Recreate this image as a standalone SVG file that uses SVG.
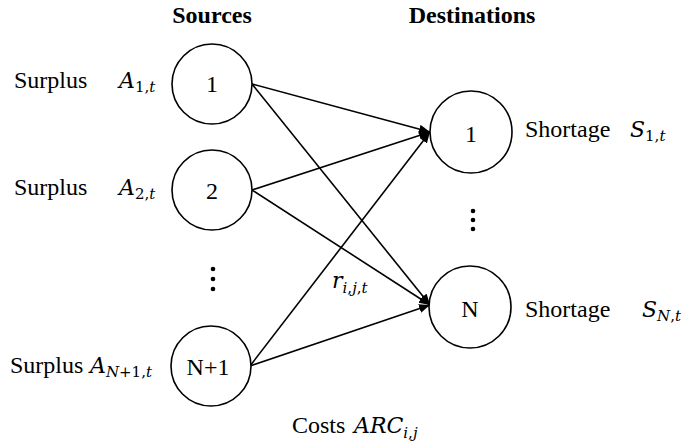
<svg xmlns="http://www.w3.org/2000/svg" width="681" height="444" viewBox="0 0 681 444">
<style>
.t{font-family:"Liberation Serif","Times New Roman",serif;font-size:24px;fill:#000}
.b{font-weight:bold}
.m{font-family:"DejaVu Serif","Liberation Serif",serif;font-style:italic;font-size:22px;fill:#000}
.s{font-size:15px}
.u{font-style:normal}
.node circle{fill:#fff;stroke:#000;stroke-width:1.6}
#edges line{stroke:#000;stroke-width:1.6;marker-end:url(#arr)}
</style>
<defs>
<marker id="arr" markerUnits="userSpaceOnUse" markerWidth="12" markerHeight="10" refX="11" refY="5" orient="auto">
<path d="M0,0.5 L11,5 L0,9.5 z" fill="#000"/>
</marker>
</defs>
<rect width="681" height="444" fill="#fff"/>
<text class="t b" x="212" y="23" text-anchor="middle">Sources</text>
<text class="t b" x="472" y="23" text-anchor="middle">Destinations</text>
<g id="edges">
<line x1="252" y1="84" x2="430" y2="132"/>
<line x1="252" y1="84" x2="430" y2="305"/>
<line x1="252" y1="190" x2="430" y2="132"/>
<line x1="252" y1="190" x2="430" y2="305"/>
<line x1="250" y1="366" x2="430" y2="132"/>
<line x1="250" y1="366" x2="430" y2="305"/>
</g>
<g id="src1" class="node">
<circle cx="212" cy="84" r="40"/>
<text class="t" x="212" y="92" text-anchor="middle">1</text>
<text class="t" x="14" y="88">Surplus</text>
<text class="m" x="119" y="88">A<tspan class="s" dy="4"><tspan class="u">1,</tspan>t</tspan></text>
</g>
<g id="src2" class="node">
<circle cx="212" cy="190" r="40"/>
<text class="t" x="212" y="199" text-anchor="middle">2</text>
<text class="t" x="14" y="195">Surplus</text>
<text class="m" x="119" y="195">A<tspan class="s" dy="4"><tspan class="u">2,</tspan>t</tspan></text>
</g>
<g id="srcdots">
<circle cx="213" cy="269" r="2.3"/>
<circle cx="213" cy="279" r="2.3"/>
<circle cx="213" cy="289" r="2.3"/>
</g>
<g id="srcN1" class="node">
<circle cx="211" cy="366" r="40"/>
<text class="t" x="208" y="375" text-anchor="middle">N+1</text>
<text class="t" x="10" y="373">Surplus</text>
<text class="m" x="90" y="373">A<tspan class="s" dy="4">N<tspan class="u">+1,</tspan>t</tspan></text>
</g>
<g id="dst1" class="node">
<circle cx="471" cy="132" r="41"/>
<text class="t" x="471" y="142" text-anchor="middle">1</text>
<text class="t" x="525" y="137">Shortage</text>
<text class="m" x="630" y="137">S<tspan class="s" dy="4"><tspan class="u">1,</tspan>t</tspan></text>
</g>
<g id="dstdots">
<circle cx="473" cy="211" r="2.3"/>
<circle cx="473" cy="220" r="2.3"/>
<circle cx="473" cy="229" r="2.3"/>
</g>
<g id="dstN" class="node">
<circle cx="470" cy="307" r="41"/>
<text class="t" x="470" y="317" text-anchor="middle">N</text>
<text class="t" x="525" y="317">Shortage</text>
<text class="m" x="642" y="317">S<tspan class="s" dy="4">N<tspan class="u">,</tspan>t</tspan></text>
</g>
<text class="m" x="332" y="288">r<tspan class="s" dy="5">i<tspan class="u">,</tspan>j<tspan class="u">,</tspan>t</tspan></text>
<text class="t" x="292" y="433">Costs</text>
<text class="m" x="354" y="433">ARC<tspan class="s" dy="5">i<tspan class="u">,</tspan>j</tspan></text>
</svg>
